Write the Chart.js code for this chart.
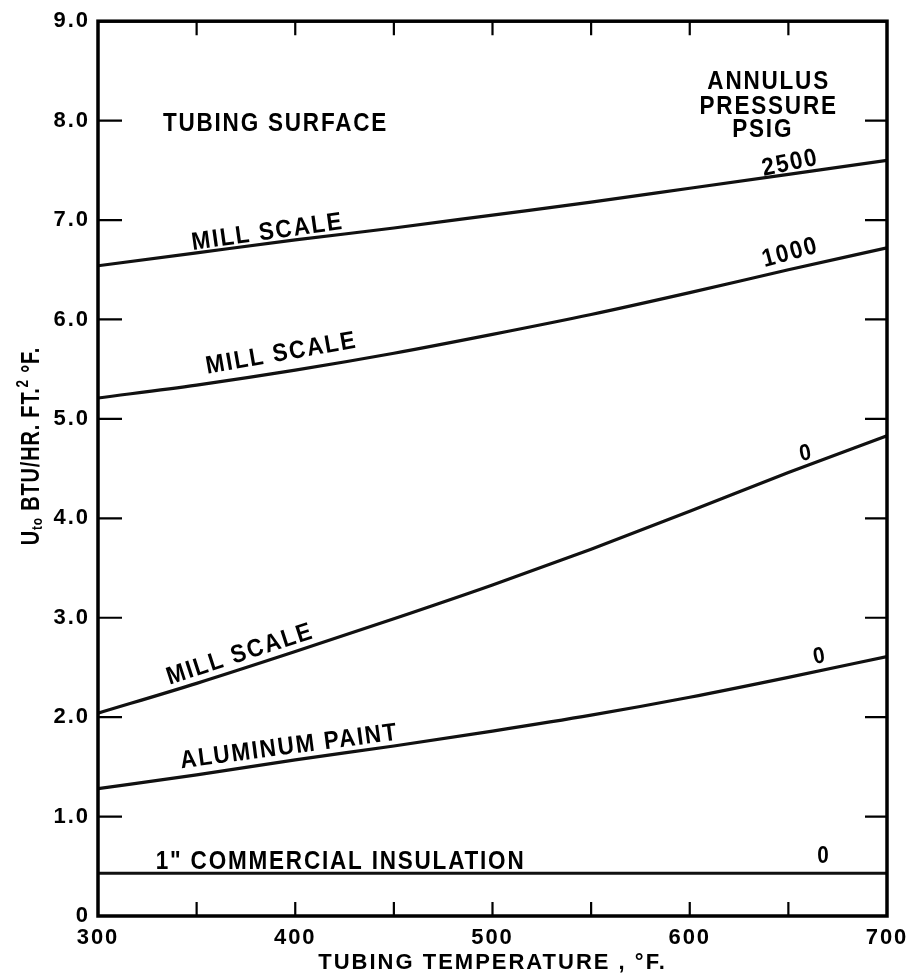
<!DOCTYPE html>
<html><head><meta charset="utf-8">
<script src="https://cdn.jsdelivr.net/npm/chart.js@4.4.0/dist/chart.umd.min.js"></script>
<style>html,body{margin:0;padding:0;background:#fff;}</style>
</head><body>
<canvas id="c" width="915" height="980" style="display:block;width:915px;height:980px"></canvas>
<script>
// ---- data ----
const temps = [300, 350, 400, 450, 500, 550, 600, 650, 700];
const millScale2500 = [6.54, 6.67, 6.80, 6.92, 7.05, 7.18, 7.32, 7.46, 7.60];
const millScale1000 = [5.21, 5.34, 5.49, 5.66, 5.85, 6.05, 6.27, 6.50, 6.72];
const millScale0 = [2.04, 2.34, 2.66, 2.99, 3.33, 3.69, 4.07, 4.46, 4.83];
const aluminumPaint0 = [1.28, 1.42, 1.57, 1.71, 1.86, 2.02, 2.20, 2.40, 2.61];
const insulation0 = [0.43, 0.43, 0.43, 0.43, 0.43, 0.43, 0.43, 0.43, 0.43];
const xTickLabels = ['300', '400', '500', '600', '700'];
const xMinorTicks = [350, 400, 450, 500, 550, 600, 650];
const yTickLabels = ['0', '1.0', '2.0', '3.0', '4.0', '5.0', '6.0', '7.0', '8.0', '9.0'];
const yInnerTicks = [1, 2, 3, 4, 5, 6, 7, 8];

// ---- text placed on the plot (data coordinates) ----
const notes = [
  {text: 'TUBING SURFACE', x: 390, y: 7.96, rot: 0},
  {text: 'ANNULUS', x: 640, y: 8.39, rot: 0},
  {text: 'PRESSURE', x: 640, y: 8.14, rot: 0},
  {text: 'PSIG', x: 637, y: 7.90, rot: 0},
  {text: '2500', x: 651, y: 7.57, rot: -12},
  {text: '1000', x: 651, y: 6.67, rot: -15},
  {text: 'MILL SCALE', x: 386, y: 6.875, rot: -8},
  {text: 'MILL SCALE', x: 393, y: 5.655, rot: -10},
  {text: 'MILL SCALE', x: 372, y: 2.63, rot: -18},
  {text: 'ALUMINUM PAINT', x: 397, y: 1.70, rot: -7.5},
  {text: '1" COMMERCIAL INSULATION', x: 423, y: 0.545, rot: 0},
  {text: '0', x: 659, y: 4.65, rot: -10},
  {text: '0', x: 666, y: 2.61, rot: -10},
  {text: '0', x: 668, y: 0.595, rot: 0}
];

const FONT = "'Liberation Sans',Arial,sans-serif";
const pts = vals => temps.map((t, i) => ({x: t, y: vals[i]}));
const lineDs = vals => ({
  data: pts(vals), borderColor: '#111', borderWidth: 3.2, pointRadius: 0,
  tension: 0.4, cubicInterpolationMode: 'monotone', fill: false
});

const spacingPlugin = {
  id: 'spacing',
  beforeDraw(chart) { chart.ctx.letterSpacing = '2px'; },
  afterDraw(chart) { chart.ctx.letterSpacing = '0px'; }
};

const framePlugin = {
  id: 'frame',
  afterDraw(chart) {
    const {ctx, chartArea: a, scales: {x, y}} = chart;
    ctx.save();
    ctx.strokeStyle = '#000';
    ctx.lineWidth = 3.5;
    ctx.strokeRect(a.left, a.top, a.right - a.left, a.bottom - a.top);
    ctx.lineWidth = 2.2;
    ctx.beginPath();
    yInnerTicks.forEach(v => {
      const py = y.getPixelForValue(v);
      ctx.moveTo(a.left, py); ctx.lineTo(a.left + 24, py);
      ctx.moveTo(a.right - 22, py); ctx.lineTo(a.right, py);
    });
    xMinorTicks.forEach(v => {
      const px = x.getPixelForValue(v);
      ctx.moveTo(px, a.bottom); ctx.lineTo(px, a.bottom - 14);
      ctx.moveTo(px, a.top); ctx.lineTo(px, a.top + 14);
    });
    ctx.stroke();

    // notes
    ctx.fillStyle = '#000';
    ctx.textAlign = 'center';
    ctx.textBaseline = 'middle';
    ctx.letterSpacing = '2px';
    notes.forEach(n => {
      ctx.save();
      ctx.translate(x.getPixelForValue(n.x), y.getPixelForValue(n.y));
      ctx.rotate(n.rot * Math.PI / 180);
      ctx.scale(0.9, 1);
      ctx.font = (n.text === '0' ? 'bold 23px ' : 'bold 25px ') + FONT;
      ctx.fillText(n.text, 0, 0);
      ctx.restore();
    });

    // y axis title with subscript / superscript
    const parts = [
      {t: 'U', s: 25, dy: 0},
      {t: 'to', s: 15, dy: 6},
      {t: ' BTU/HR. FT.', s: 25, dy: 0},
      {t: '2', s: 17, dy: -9},
      {t: ' °F.', s: 25, dy: 0}
    ];
    ctx.letterSpacing = '1px';
    ctx.textAlign = 'left';
    let total = 0;
    parts.forEach(p => { ctx.font = 'bold ' + p.s + 'px ' + FONT; p.w = ctx.measureText(p.t).width; total += p.w; });
    ctx.translate(32, 446);
    ctx.rotate(-Math.PI / 2);
    ctx.scale(0.8, 1);
    let cx = -total / 2;
    parts.forEach(p => { ctx.font = 'bold ' + p.s + 'px ' + FONT; ctx.fillText(p.t, cx, p.dy); cx += p.w; });
    ctx.restore();
  }
};

new Chart(document.getElementById('c'), {
  type: 'line',
  data: {
    datasets: [
      lineDs(millScale2500), lineDs(millScale1000), lineDs(millScale0),
      lineDs(aluminumPaint0), lineDs(insulation0)
    ]
  },
  options: {
    responsive: false,
    animation: false,
    devicePixelRatio: 1,
    layout: {padding: {top: 21, right: 28, left: 0, bottom: 0}},
    plugins: {legend: {display: false}, tooltip: {enabled: false}},
    scales: {
      x: {
        type: 'linear', min: 300, max: 700,
        grid: {display: false, drawTicks: false},
        border: {display: false},
        afterBuildTicks: s => { s.ticks = xTickLabels.map(v => ({value: Number(v)})); },
        afterFit: s => { s.height = 64; },
        ticks: {
          autoSkip: false, maxRotation: 0, padding: 9, color: '#000',
          font: {family: FONT, size: 22, weight: 'bold'},
          callback: (v) => xTickLabels.includes(String(v)) ? String(v) : ''
        },
        title: {
          display: true, text: 'TUBING TEMPERATURE , °F.', color: '#000',
          font: {family: FONT, size: 22, weight: 'bold'}, padding: {top: 0, bottom: 4}
        }
      },
      y: {
        type: 'linear', min: 0, max: 9,
        grid: {display: false, drawTicks: false},
        border: {display: false},
        afterBuildTicks: s => { s.ticks = yTickLabels.map((l, i) => ({value: i})); },
        afterFit: s => { s.width = 98; },
        ticks: {
          autoSkip: false, padding: 8, color: '#000',
          font: {family: FONT, size: 22, weight: 'bold'},
          callback: (v) => yTickLabels[v]
        }
      }
    }
  },
  plugins: [spacingPlugin, framePlugin]
});
</script>
</body></html>
